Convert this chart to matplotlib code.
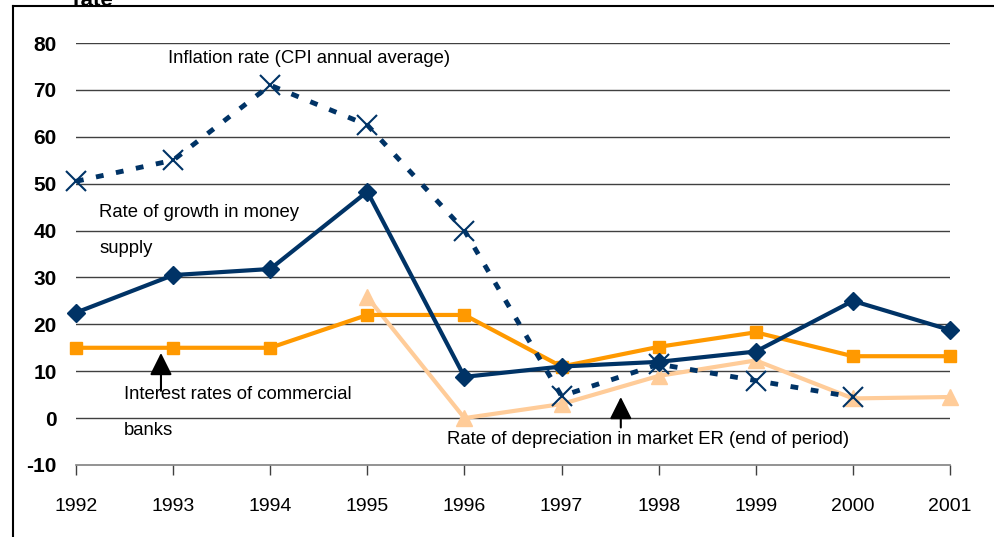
import matplotlib
matplotlib.use('Agg')
import matplotlib.pyplot as plt
from matplotlib.lines import Line2D

# data
years = [1992, 1993, 1994, 1995, 1996, 1997, 1998, 1999, 2000, 2001]
money_growth = [22.5, 30.5, 31.8, 48.3, 8.8, 11.0, 12.0, 14.2, 25.0, 18.8]
inflation_years = [1992, 1993, 1994, 1995, 1996, 1997, 1998, 1999, 2000]
inflation = [50.5, 55.0, 71.0, 62.5, 40.0, 4.7, 11.5, 8.0, 4.5]
interest = [15.0, 15.0, 15.0, 22.0, 22.0, 11.0, 15.2, 18.3, 13.2, 13.2]
deprec_years = [1995, 1996, 1997, 1998, 1999, 2000, 2001]
depreciation = [25.8, 0.0, 3.0, 9.0, 12.3, 4.2, 4.5]
y_ticks = [-10, 0, 10, 20, 30, 40, 50, 60, 70, 80]

navy = '#003366'
orange = '#FF9900'
peach = '#FFCC99'
plt.rcParams['font.family'] = ['Liberation Sans', 'DejaVu Sans']

fig = plt.figure(figsize=(9.94, 5.37), dpi=100)
ax = fig.add_axes([76/994, 1 - 465/537, (950-76)/994, (465-43)/537])

# gridlines (skip the bottom one, that is the axis)
for v in y_ticks[1:]:
    ax.axhline(v, color='#404040', lw=1, zorder=0)

ax.plot(deprec_years, depreciation, color=peach, lw=3, marker='^', ms=11, zorder=2, clip_on=False)
ax.plot(years, interest, color=orange, lw=3, marker='s', ms=9, zorder=3, clip_on=False)
ax.plot(years, money_growth, color=navy, lw=3, marker='D', ms=9, zorder=4, clip_on=False)
ax.plot(inflation_years, inflation, color=navy, lw=3.5, linestyle=(0, (1.6, 2.6)),
        marker='x', ms=15, mew=1.5, zorder=5, clip_on=False)

ax.set_xlim(1992, 2001)
ax.set_ylim(-10, 80)
ax.set_xticks(years)
ax.set_xticklabels([str(y) for y in years], fontsize=14)
ax.set_yticks(y_ticks)
ax.set_yticklabels([str(v) for v in y_ticks], fontsize=15, fontweight='bold')
ax.tick_params(axis='y', length=0, pad=14)
ax.tick_params(axis='x', length=7, width=1, color='#404040', pad=17, direction='out')
for s in ['top', 'right', 'left']:
    ax.spines[s].set_visible(False)
ax.spines['bottom'].set_color('#808080')
ax.spines['bottom'].set_linewidth(1.2)

# series labels
lab = 13.3
ax.text(1992.95, 76.8, 'Inflation rate (CPI annual average)', fontsize=lab, va='center')
ax.text(1992.24, 40.0, 'Rate of growth in money\nsupply', fontsize=lab, va='center',
        linespacing=2.45)
ax.text(1992.49, 1.2, 'Interest rates of commercial\nbanks', fontsize=lab, va='center',
        linespacing=2.45)
ax.text(1995.82, -4.6, 'Rate of depreciation in market ER (end of period)', fontsize=lab,
        va='center')
arrow = dict(arrowstyle='-|>', mutation_scale=34, color='black', lw=1.5, shrinkA=0, shrinkB=0)
ax.annotate('', xy=(1992.875, 13.9), xytext=(1992.875, 5.8), arrowprops=arrow)
ax.annotate('', xy=(1997.61, 4.5), xytext=(1997.61, -2.0), arrowprops=arrow)

# outer frame and the clipped axis title
fig.add_artist(Line2D([13/994, 13/994], [0, 1 - 6/537], color='black', lw=1.5))
fig.add_artist(Line2D([13/994, 1], [1 - 6/537, 1 - 6/537], color='black', lw=1.5))
fig.text(73/994, 1.0, 'rate', fontsize=16, fontweight='bold', va='center', ha='left')

fig.savefig('out.png', dpi=100)
